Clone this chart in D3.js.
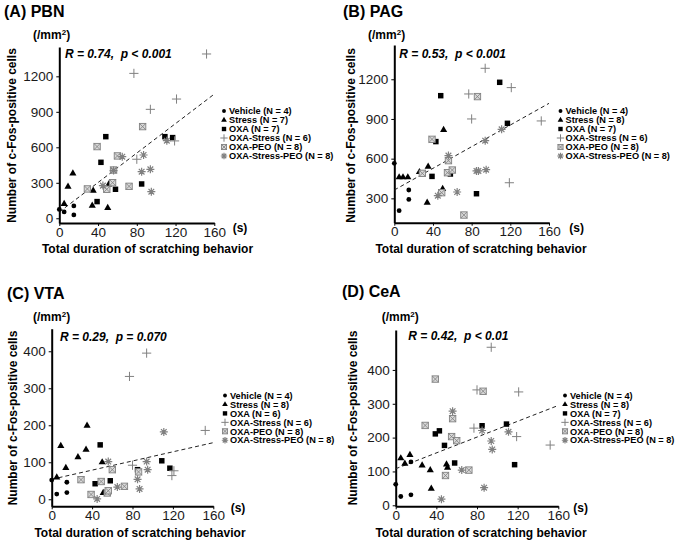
<!DOCTYPE html>
<html>
<head>
<meta charset="utf-8">
<script src="https://cdn.jsdelivr.net/npm/d3@7"></script>
<style>
  body { margin: 0; background: #fff; }
  text { font-family: "Liberation Sans", Arial, sans-serif; }
</style>
</head>
<body>
<script>
// groups shown in every legend, in legend order
var groupNames = ["Vehicle", "Stress", "OXA", "OXA-Stress", "OXA-PEO", "OXA-Stress-PEO"];
var groupMarks = ["circle", "triangle", "square", "plus", "boxx", "star"];
var xTicks = [0, 40, 80, 120, 160];

// [scratching duration (s), c-Fos cells /mm2]
var pbnVehicle = [[0, 75], [5, 54], [15, 28], [15, 104]];
var pbnStress = [[5, 121], [9, 268], [14, 380], [34, 107], [35, 234], [50, 87], [51, 287]];
var pbnOxa = [[39, 141], [43, 473], [48, 690], [58, 245], [85, 290], [109, 690], [117, 682]];
var pbnOxaStress = [[77, 1225], [80, 499], [94, 921], [119, 654], [121, 1008], [152, 1389]];
var pbnOxaPeo = [[29, 248], [39, 606], [49, 245], [55, 301], [56, 408], [60, 527], [72, 270], [86, 775]];
var pbnOxaStressPeo = [[45, 276], [56, 403], [65, 521], [85, 394], [87, 535], [94, 414], [95, 225], [111, 656]];
var pbnFit = [[0, 53], [160, 1050]];

var pagVehicle = [[0, 565], [5, 207], [15, 292], [15, 363]];
var pagStress = [[5, 459], [9, 459], [14, 459], [26, 499], [34, 267], [35, 540], [50, 371], [51, 817]];
var pagOxa = [[39, 466], [43, 729], [48, 1076], [58, 484], [85, 335], [109, 1177], [117, 867]];
var pagOxaStress = [[77, 1089], [80, 900], [94, 1283], [119, 418], [121, 1137], [152, 885]];
var pagOxaPeo = [[29, 489], [39, 746], [49, 343], [55, 494], [56, 585], [60, 514], [72, 174], [86, 1069]];
var pagOxaStressPeo = [[45, 320], [56, 623], [65, 348], [85, 507], [87, 507], [94, 736], [95, 517], [111, 822]];
var pagFit = [[0, 363], [160, 1018]];

var vtaVehicle = [[0, 52], [5, 14], [15, 18], [15, 46]];
var vtaStress = [[5, 59], [9, 144], [14, 85], [26, 114], [34, 134], [35, 199], [50, 100], [51, 17]];
var vtaOxa = [[43, 42], [48, 147], [58, 50], [85, 80], [109, 104], [117, 84]];
var vtaOxaStress = [[77, 332], [80, 92], [94, 395], [119, 64], [121, 77], [152, 186]];
var vtaOxaPeo = [[29, 53], [39, 13], [49, 48], [55, 17], [56, 23], [60, 80], [72, 35], [86, 74]];
var vtaOxaStressPeo = [[45, 1], [56, 102], [65, 33], [85, 54], [87, 28], [94, 102], [95, 80], [111, 182]];
var vtaFit = [[0, 54], [160, 153]];

var ceaVehicle = [[0, 62], [5, 26], [15, 31], [15, 128]];
var ceaStress = [[5, 139], [9, 123], [14, 149], [26, 118], [34, 104], [35, 49], [50, 121], [51, 111]];
var ceaOxa = [[39, 211], [43, 220], [48, 177], [58, 125], [85, 235], [109, 240], [117, 120]];
var ceaOxaStress = [[77, 228], [80, 341], [94, 467], [119, 203], [121, 335], [152, 178]];
var ceaOxaPeo = [[29, 236], [39, 373], [49, 88], [55, 203], [56, 256], [60, 191], [72, 104], [86, 337]];
var ceaOxaStressPeo = [[45, 18], [56, 278], [65, 104], [85, 221], [87, 52], [94, 190], [95, 165], [111, 217]];
var ceaFit = [[0, 108], [160, 295]];

var panels = [
  { title: "(A) PBN", stat: "R = 0.74,  p < 0.001",
    groups: [pbnVehicle, pbnStress, pbnOxa, pbnOxaStress, pbnOxaPeo, pbnOxaStressPeo], fit: pbnFit,
    yTicks: [0, 300, 600, 900, 1200], yDomain: [-40, 1448],
    left: 59.3, right: 214.3, top: 47, bottom: 223,
    titleX: 4, titleY: 16.7, unitX: 33, unitY: 39, statX: 65, statY: 57.5,
    yLabX: 11.5, yLabY: 135.5, xLabX: 147.5, xLabY: 253.3, sX: 240, sY: 231.5,
    legX: 224, legY: 111, legDy: 9 },
  { title: "(B) PAG", stat: "R = 0.53,  p < 0.001",
    groups: [pagVehicle, pagStress, pagOxa, pagOxaStress, pagOxaPeo, pagOxaStressPeo], fit: pagFit,
    yTicks: [300, 600, 900, 1200], yDomain: [116, 1459],
    left: 394.3, right: 549, top: 45, bottom: 222.7,
    titleX: 343, titleY: 16.7, unitX: 368, unitY: 39, statX: 399.3, statY: 57.5,
    yLabX: 351, yLabY: 135.5, xLabX: 481, xLabY: 253.3, sX: 576.7, sY: 231.5,
    legX: 560.5, legY: 111, legDy: 9 },
  { title: "(C) VTA", stat: "R = 0.29,  p = 0.070",
    groups: [vtaVehicle, vtaStress, vtaOxa, vtaOxaStress, vtaOxaPeo, vtaOxaStressPeo], fit: vtaFit,
    yTicks: [0, 100, 200, 300, 400], yDomain: [-19, 461],
    left: 51.7, right: 213.3, top: 328.7, bottom: 506.3,
    titleX: 7, titleY: 298.7, unitX: 33, unitY: 321, statX: 60, statY: 341,
    yLabX: 12.5, yLabY: 418, xLabX: 140, xLabY: 537, sX: 238, sY: 511.5,
    legX: 225, legY: 395.5, legDy: 8.95 },
  { title: "(D) CeA", stat: "R = 0.42,  p < 0.01",
    groups: [ceaVehicle, ceaStress, ceaOxa, ceaOxaStress, ceaOxaPeo, ceaOxaStressPeo], fit: ceaFit,
    yTicks: [0, 100, 200, 300, 400], yDomain: [-3, 518],
    left: 395.7, right: 558.3, top: 330, bottom: 506.3,
    titleX: 342, titleY: 297, unitX: 381.7, unitY: 321, statX: 408.3, statY: 339.5,
    yLabX: 352.5, yLabY: 418, xLabX: 481, xLabY: 537, sX: 580.7, sY: 511.5,
    legX: 565, legY: 395.5, legDy: 8.95 }
];

var svg = d3.select("body").append("svg")
  .attr("width", 680)
  .attr("height", 544);

var grey = "#808080";

function drawMark(g, kind, cx, cy, k) {
  var m = g.append("g").attr("transform", "translate(" + cx + "," + cy + ")");
  if (kind === "circle") {
    m.append("circle").attr("r", 2.4 * k).attr("fill", "#000");
  } else if (kind === "triangle") {
    m.append("path").attr("d", d3.symbol(d3.symbolTriangle, 22 * k * k)()).attr("fill", "#000");
  } else if (kind === "square") {
    m.append("path").attr("d", d3.symbol(d3.symbolSquare, 30 * k * k)()).attr("fill", "#000");
  } else if (kind === "plus") {
    var r = 4.6 * k;
    m.append("path").attr("d", "M" + (-r) + ",0H" + r + "M0," + (-r) + "V" + r)
      .attr("stroke", grey).attr("stroke-width", 1).attr("fill", "none");
  } else if (kind === "boxx") {
    var h = 3.2 * k;
    m.append("rect").attr("x", -h).attr("y", -h).attr("width", 2 * h).attr("height", 2 * h)
      .attr("fill", "#d8d8d8").attr("stroke", grey).attr("stroke-width", 0.9);
    m.append("path").attr("d", "M" + (-h) + "," + (-h) + "L" + h + "," + h + "M" + h + "," + (-h) + "L" + (-h) + "," + h)
      .attr("stroke", grey).attr("stroke-width", 0.8);
  } else if (kind === "star") {
    var s = 4 * k, d = s * 0.707;
    m.append("path")
      .attr("d", "M" + (-s) + ",0H" + s + "M0," + (-s) + "V" + s +
        "M" + (-d) + "," + (-d) + "L" + d + "," + d + "M" + d + "," + (-d) + "L" + (-d) + "," + d)
      .attr("stroke", grey).attr("stroke-width", 1.2).attr("fill", "none");
  }
}

panels.forEach(function(p) {
  var g = svg.append("g");

  var x = d3.scaleLinear().domain([0, 160]).range([p.left, p.right]);
  var y = d3.scaleLinear().domain(p.yDomain).range([p.bottom, p.top]);

  // axes
  var xAxis = g.append("g")
    .attr("transform", "translate(0," + p.bottom + ")")
    .call(d3.axisBottom(x).tickValues(xTicks).tickSize(3).tickSizeOuter(0).tickPadding(1)
      .tickFormat(d3.format("d")));
  var yAxis = g.append("g")
    .attr("transform", "translate(" + p.left + ",0)")
    .call(d3.axisLeft(y).tickValues(p.yTicks).tickSize(3).tickSizeOuter(0).tickPadding(3)
      .tickFormat(d3.format("d")));

  [xAxis, yAxis].forEach(function(a) {
    a.select(".domain").attr("stroke", "#000").attr("stroke-width", 2);
    a.selectAll(".tick line").attr("stroke", "#000").attr("stroke-width", 1);
    a.selectAll(".tick text")
      .attr("fill", "#1a1a1a")
      .style("font-size", "13.5px")
      .style("font-family", "\"Liberation Sans\", Arial, sans-serif");
  });

  // fit line
  g.append("path")
    .datum(p.fit)
    .attr("d", d3.line().x(function(d) { return x(d[0]); }).y(function(d) { return y(d[1]); }))
    .attr("fill", "none")
    .attr("stroke", "#222")
    .attr("stroke-width", 1)
    .attr("stroke-dasharray", "4,3");

  // points
  p.groups.forEach(function(pts, gi) {
    pts.forEach(function(d) {
      drawMark(g, groupMarks[gi], x(d[0]), y(d[1]), 1);
    });
  });

  // texts
  g.append("text").attr("x", p.titleX).attr("y", p.titleY)
    .style("font-size", "16px").style("font-weight", "bold").text(p.title);

  var unit = g.append("text").attr("x", p.unitX).attr("y", p.unitY)
    .style("font-size", "12px").style("font-weight", "bold");
  unit.append("tspan").text("(/mm");
  unit.append("tspan").attr("dy", -4.5).style("font-size", "8px").text("2");
  unit.append("tspan").attr("dy", 4.5).text(")");

  g.append("text").attr("x", p.statX).attr("y", p.statY)
    .style("font-size", "12px").style("font-weight", "bold").style("font-style", "italic")
    .style("white-space", "pre")
    .text(p.stat);

  g.append("text")
    .attr("transform", "translate(" + p.yLabX + "," + p.yLabY + ") rotate(-90)")
    .attr("text-anchor", "middle").attr("dy", "0.35em")
    .style("font-size", "12px").style("font-weight", "bold")
    .text("Number of c-Fos-positive cells");

  g.append("text").attr("x", p.xLabX).attr("y", p.xLabY)
    .attr("text-anchor", "middle")
    .style("font-size", "12px").style("font-weight", "bold")
    .text("Total duration of scratching behavior");

  g.append("text").attr("x", p.sX).attr("y", p.sY)
    .attr("text-anchor", "middle")
    .style("font-size", "12px").style("font-weight", "bold")
    .text("(s)");

  // legend
  groupNames.forEach(function(name, gi) {
    var ly = p.legY + gi * p.legDy;
    drawMark(g, groupMarks[gi], p.legX, ly, 0.8);
    g.append("text").attr("x", p.legX + 5).attr("y", ly).attr("dy", "0.35em")
      .style("font-size", "9.2px").style("font-weight", "bold")
      .text(name + " (N = " + p.groups[gi].length + ")");
  });
});
</script>
</body>
</html>
